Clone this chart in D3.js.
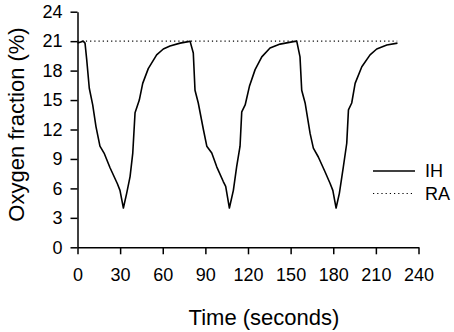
<!DOCTYPE html>
<html>
<head>
<meta charset="utf-8">
<script src="https://cdn.jsdelivr.net/npm/d3@7"></script>
<style>
    body { margin: 0; background: #fff; }
    svg { display: block; font-family: Arial, "Liberation Sans", sans-serif; }
</style>
</head>
<body>
<svg id="chart"></svg>
<script>
// time (s) and oxygen fraction (%)
const ihTime = [0, 4, 5.3, 6.5, 8.3, 10.7, 13, 15.8, 18.7, 22.9, 28, 29.9, 32.3, 34.6, 37, 38.9, 40.5, 43.5, 45.9, 49.8, 55.7, 60.4, 65.1, 72.2, 78, 79.2,
    81.5, 82.7, 85, 88.6, 91, 94.5, 98, 102.6, 104.3, 106.9, 109.7, 112, 114.4, 115.6, 118, 121, 125, 129.7, 135.5, 142.6, 151.9, 154.3,
    156.6, 157.8, 160.2, 163.7, 166, 169.5, 174.2, 177.8, 179.7, 182, 184.3, 187.1, 189.5, 190.7, 193, 195.4, 200.1, 205.9, 210.6, 217.7, 225.2];
const ihValue = [20.8, 21.0, 20.8, 19.1, 16.2, 14.5, 12.3, 10.3, 9.6, 8.1, 6.5, 5.8, 4.0, 5.5, 7.2, 9.6, 13.7, 15.0, 16.7, 18.2, 19.6, 20.2, 20.5, 20.8, 20.95, 21.0,
    19.8, 16.0, 14.7, 12.0, 10.3, 9.6, 8.2, 6.7, 6.2, 4.0, 5.8, 8.2, 10.3, 13.8, 14.5, 16.4, 18.1, 19.4, 20.3, 20.7, 20.95, 21.0,
    19.4, 16.0, 14.7, 11.6, 10.1, 9.2, 7.7, 6.5, 5.8, 4.0, 5.5, 8.2, 10.6, 14.0, 14.7, 16.7, 18.4, 19.6, 20.2, 20.6, 20.8];
const raTime = [0, 225];
const raValue = [21, 21];
const xTicks = [0, 30, 60, 90, 120, 150, 180, 210, 240];
const yTicks = [0, 3, 6, 9, 12, 15, 18, 21, 24];
const seriesNames = ["IH", "RA"];

const width = 454, height = 332;
const margin = { top: 11.7, right: 35.5, bottom: 84.7, left: 77.5 };

const svg = d3.select("#chart").attr("width", width).attr("height", height);

const x = d3.scaleLinear().domain([0, 240]).range([margin.left, width - margin.right]);
const y = d3.scaleLinear().domain([0, 24]).range([height - margin.bottom, margin.top]);

// axes
const xAxis = svg.append("g")
    .attr("transform", `translate(0,${y(0)})`)
    .call(d3.axisBottom(x).tickValues(xTicks).tickSize(7).tickPadding(14).tickSizeOuter(0));
const yAxis = svg.append("g")
    .attr("transform", `translate(${x(0)},0)`)
    .call(d3.axisLeft(y).tickValues(yTicks).tickSize(7).tickPadding(8).tickSizeOuter(0));

[xAxis, yAxis].forEach(g => {
    g.selectAll("path, line").attr("stroke", "#000").attr("stroke-width", 1.5);
    g.selectAll("text").attr("fill", "#000").style("font-size", "18px").style("font-family", "Arial, 'Liberation Sans', sans-serif");
});

// lines
const line = d3.line().x(d => x(d[0])).y(d => y(d[1]));

svg.append("path")
    .datum(raTime.map((t, i) => [t, raValue[i]]))
    .attr("fill", "none")
    .attr("stroke", "#000")
    .attr("stroke-width", 1.2)
    .attr("stroke-dasharray", "1.2,3")
    .attr("d", line);

svg.append("path")
    .datum(ihTime.map((t, i) => [t, ihValue[i]]))
    .attr("fill", "none")
    .attr("stroke", "#000")
    .attr("stroke-width", 1.6)
    .attr("stroke-linejoin", "round")
    .attr("d", line);

// legend
const legend = svg.append("g");
seriesNames.forEach((name, i) => {
    const ly = 171 + i * 22.5;
    legend.append("line")
        .attr("x1", 373).attr("x2", 415)
        .attr("y1", ly).attr("y2", ly)
        .attr("stroke", "#000")
        .attr("stroke-width", i === 0 ? 1.6 : 1.2)
        .attr("stroke-dasharray", i === 0 ? null : "1.2,3");
    legend.append("text")
        .attr("x", 425).attr("y", ly)
        .attr("dy", "0.36em")
        .style("font-size", "18px")
        .text(name);
});

// axis titles
svg.append("text")
    .attr("x", 264)
    .attr("y", 325)
    .attr("text-anchor", "middle")
    .style("font-size", "22px")
    .text("Time (seconds)");

svg.append("text")
    .attr("transform", "rotate(-90)")
    .attr("x", -124.5)
    .attr("y", 24)
    .attr("text-anchor", "middle")
    .style("font-size", "22px")
    .text("Oxygen fraction (%)");
</script>
</body>
</html>
